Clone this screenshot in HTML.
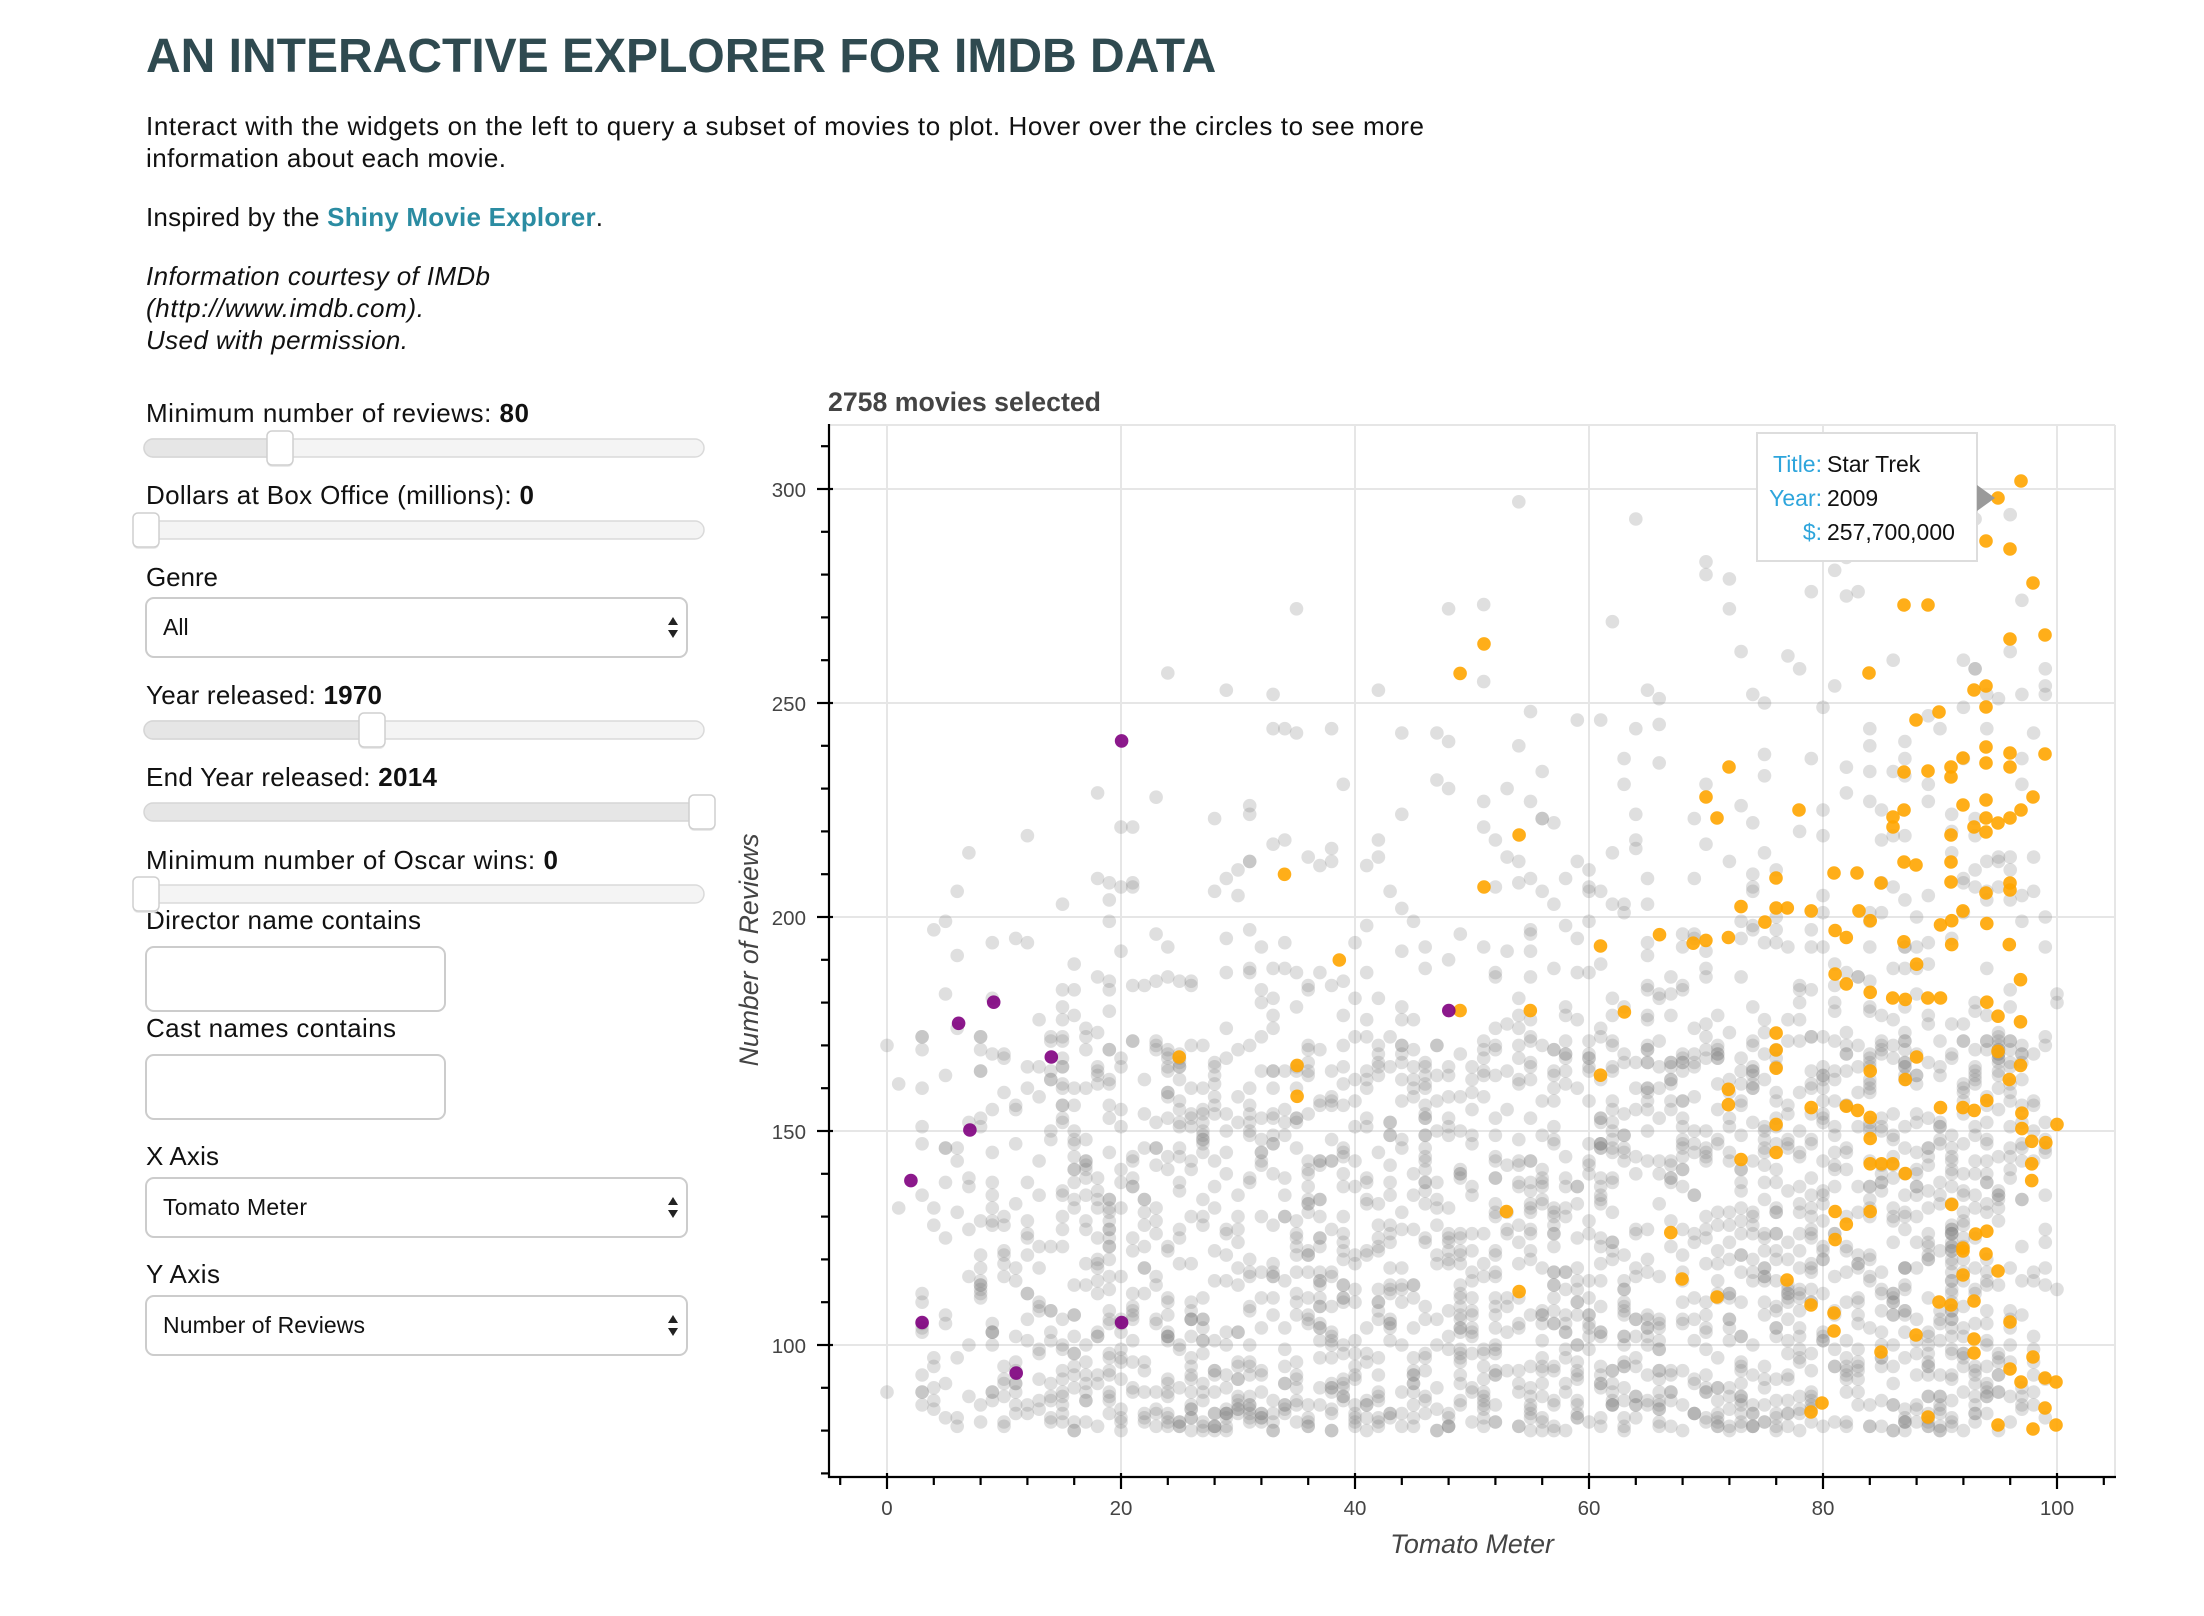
<!DOCTYPE html>
<html><head><meta charset="utf-8">
<style>
html,body{margin:0;padding:0;background:#fff;}
body{width:2204px;height:1616px;overflow:hidden;}
svg{display:block;font-family:"Liberation Sans",Helvetica,Arial,sans-serif;}
</style></head><body>
<svg id="s" width="2204" height="1616" viewBox="0 0 2204 1616" xmlns="http://www.w3.org/2000/svg">
<rect x="0" y="0" width="2204" height="1616" fill="#fff"/>
<!-- Header text -->
<text x="146" y="72" font-size="48" font-weight="bold" fill="#2f4a50">AN INTERACTIVE EXPLORER FOR IMDB DATA</text>
<g font-size="26" fill="#111">
<text x="146" y="135" textLength="1278">Interact with the widgets on the left to query a subset of movies to plot. Hover over the circles to see more</text>
<text x="146" y="167" textLength="360">information about each movie.</text>
<text x="146" y="226" textLength="457">Inspired by the <tspan font-weight="bold" fill="#2b8ca2">Shiny Movie Explorer</tspan>.</text>
<text x="146" y="285" font-style="italic" textLength="344">Information courtesy of IMDb</text>
<text x="146" y="317" font-style="italic" textLength="278">(http://www.imdb.com).</text>
<text x="146" y="349" font-style="italic" textLength="262">Used with permission.</text>

<text x="146" y="422" textLength="383">Minimum number of reviews: <tspan font-weight="bold">80</tspan></text>
<text x="146" y="504" textLength="388">Dollars at Box Office (millions): <tspan font-weight="bold">0</tspan></text>
<text x="146" y="586" textLength="72">Genre</text>
<text x="146" y="704" textLength="236">Year released: <tspan font-weight="bold">1970</tspan></text>
<text x="146" y="786" textLength="291">End Year released: <tspan font-weight="bold">2014</tspan></text>
<text x="146" y="869" textLength="412">Minimum number of Oscar wins: <tspan font-weight="bold">0</tspan></text>
<text x="146" y="929" textLength="275">Director name contains</text>
<text x="146" y="1037" textLength="250">Cast names contains</text>
<text x="146" y="1165" textLength="73">X Axis</text>
<text x="146" y="1283" textLength="74">Y Axis</text>
</g>

<!-- Sliders -->
<g stroke-width="1.5">
<rect x="144" y="439" width="560" height="18" rx="9" fill="#f4f4f4" stroke="#dadada"/>
<rect x="144" y="439" width="140" height="18" rx="9" fill="#e6e6e6" stroke="#d6d6d6"/>
<rect x="267" y="433" width="26" height="34" rx="5" fill="#e9e9e9" stroke="none"/>
<rect x="267" y="431" width="26" height="34" rx="5" fill="#fff" stroke="#cfcfcf"/>
<rect x="144" y="521" width="560" height="18" rx="9" fill="#f4f4f4" stroke="#dadada"/>
<rect x="133" y="515" width="26" height="34" rx="5" fill="#e9e9e9" stroke="none"/>
<rect x="133" y="513" width="26" height="34" rx="5" fill="#fff" stroke="#cfcfcf"/>
<rect x="144" y="721" width="560" height="18" rx="9" fill="#f4f4f4" stroke="#dadada"/>
<rect x="144" y="721" width="232" height="18" rx="9" fill="#e6e6e6" stroke="#d6d6d6"/>
<rect x="359" y="715" width="26" height="34" rx="5" fill="#e9e9e9" stroke="none"/>
<rect x="359" y="713" width="26" height="34" rx="5" fill="#fff" stroke="#cfcfcf"/>
<rect x="144" y="803" width="560" height="18" rx="9" fill="#e6e6e6" stroke="#d6d6d6"/>
<rect x="689" y="797" width="26" height="34" rx="5" fill="#e9e9e9" stroke="none"/>
<rect x="689" y="795" width="26" height="34" rx="5" fill="#fff" stroke="#cfcfcf"/>
<rect x="144" y="885" width="560" height="18" rx="9" fill="#f4f4f4" stroke="#dadada"/>
<rect x="133" y="879" width="26" height="34" rx="5" fill="#e9e9e9" stroke="none"/>
<rect x="133" y="877" width="26" height="34" rx="5" fill="#fff" stroke="#cfcfcf"/>
</g>

<!-- Selects and inputs -->
<g fill="#fff" stroke="#cccccc" stroke-width="2">
<rect x="146" y="598" width="541" height="59" rx="8"/>
<rect x="146" y="947" width="299" height="64" rx="8"/>
<rect x="146" y="1055" width="299" height="64" rx="8"/>
<rect x="146" y="1178" width="541" height="59" rx="8"/>
<rect x="146" y="1296" width="541" height="59" rx="8"/>
</g>
<g fill="#222">
<polygon points="668,625 678,625 673,617"/><polygon points="668,630 678,630 673,638"/>
<polygon points="668,1205 678,1205 673,1197"/><polygon points="668,1210 678,1210 673,1218"/>
<polygon points="668,1323 678,1323 673,1315"/><polygon points="668,1328 678,1328 673,1336"/>
</g>
<g font-size="23" fill="#111">
<text x="163" y="635">All</text>
<text x="163" y="1215" textLength="144">Tomato Meter</text>
<text x="163" y="1333" textLength="202">Number of Reviews</text>
</g>

<!-- Plot -->
<text x="828" y="411" font-size="26.7" font-weight="bold" fill="#444">2758 movies selected</text>
<g stroke="#e6e6e6" stroke-width="2">
<line x1="887" y1="425" x2="887" y2="1477"/>
<line x1="1121" y1="425" x2="1121" y2="1477"/>
<line x1="1355" y1="425" x2="1355" y2="1477"/>
<line x1="1589" y1="425" x2="1589" y2="1477"/>
<line x1="1823" y1="425" x2="1823" y2="1477"/>
<line x1="2057" y1="425" x2="2057" y2="1477"/>
<line x1="829" y1="489" x2="2115" y2="489"/>
<line x1="829" y1="703" x2="2115" y2="703"/>
<line x1="829" y1="917" x2="2115" y2="917"/>
<line x1="829" y1="1131" x2="2115" y2="1131"/>
<line x1="829" y1="1345" x2="2115" y2="1345"/>
<line x1="829" y1="425" x2="2115" y2="425"/>
<line x1="2115" y1="425" x2="2115" y2="1477"/>
</g>
<g id="dots"></g>
<g id="axes" stroke="#000" stroke-width="2.2">
<line x1="829" y1="424" x2="829" y2="1478"/>
<line x1="828" y1="1477" x2="2116" y2="1477"/>
</g>
<g id="ticklabels" font-size="20.5" fill="#444"></g>
<text x="1472" y="1553" font-size="26.7" font-style="italic" fill="#444" text-anchor="middle">Tomato Meter</text>
<text transform="translate(758,950) rotate(-90)" x="0" y="0" font-size="26.7" font-style="italic" fill="#444" text-anchor="middle">Number of Reviews</text>

<!-- Tooltip -->
<rect x="1757" y="433" width="220" height="128" fill="#fff" stroke="#dddddd" stroke-width="2"/>
<polygon points="1977,485 1977,511 1995,498" fill="#9a9a9a"/>
<g font-size="23">
<text x="1822" y="472" text-anchor="end" fill="#2ea5dc">Title:</text>
<text x="1827" y="472" fill="#111">Star Trek</text>
<text x="1822" y="506" text-anchor="end" fill="#2ea5dc">Year:</text>
<text x="1827" y="506" fill="#111">2009</text>
<text x="1822" y="540" text-anchor="end" fill="#2ea5dc">$:</text>
<text x="1827" y="540" fill="#111">257,700,000</text>
</g>
</svg>
<script>
(function(){
var NS="http://www.w3.org/2000/svg";
var g=document.getElementById('dots');
var axes=document.getElementById('axes');
var tl=document.getElementById('ticklabels');
function X(v){return 887+11.7*v;}
function Y(v){return 489+(300-v)*4.28;}
function el(parent,name,attrs,text){var e=document.createElementNS(NS,name);for(var k in attrs)e.setAttribute(k,attrs[k]);if(text!==undefined)e.textContent=text;parent.appendChild(e);return e;}
for(var v=70;v<=310;v+=10){var yy=Y(v);
 if(v%50===0){el(axes,'line',{x1:817,y1:yy,x2:833,y2:yy});el(tl,'text',{x:806,y:yy+8,'text-anchor':'end'},String(v));}
 else el(axes,'line',{x1:821,y1:yy,x2:829,y2:yy});}
for(var v=-4;v<=104;v+=4){var xx=X(v);
 if(v%20===0){el(axes,'line',{x1:xx,y1:1473,x2:xx,y2:1489});el(tl,'text',{x:xx,y:1515,'text-anchor':'middle'},String(v));}
 else el(axes,'line',{x1:xx,y1:1477,x2:xx,y2:1485});}
var s=987654321;
function r(){s|=0;s=s+0x6D2B79F5|0;var t=Math.imul(s^s>>>15,1|s);t=t+Math.imul(t^t>>>7,61|t)^t;return((t^t>>>14)>>>0)/4294967296;}
var w=[],tot=0;
for(var x=0;x<=100;x++){var ww=x<=2?0.12:x<8?0.3:x<15?0.6:0.8+0.005*x;if(x>=97)ww*=0.5;if(x==100)ww*=0.4;w.push(ww);tot+=ww;}
function circ(cx,cy,fill,op){el(g,'circle',{cx:cx.toFixed(1),cy:cy.toFixed(1),r:6.8,fill:fill,'fill-opacity':op});}
for(var i=0;i<2560;i++){
 var u=r()*tot,x=0;while(x<100&&u>w[x]){u-=w[x];x++;}
 var y;
 do{
  if(r()<0.1+0.16*x/100){
    var z=Math.sqrt(-2*Math.log(1-r()))*Math.cos(2*Math.PI*r());
    y=160+Math.abs(z)*(30+0.4*x);
  }else{y=80+92*Math.pow(r(),1.3);}
  y=Math.round(y);
 }while(y>300);
 circ(X(x),Y(y),'grey',0.25);
}
var od=[1055,458,1038,479,1229,546,1213,567,1221,582,1080,594,913,622,1055,631,1305,623,1322,622,1313,640,1322,648,1263,626,1263,646,1271,646,1255,656,1288,648,1238,645,1305,662,1313,667,1330,655,1380,658,1388,655,1396,648,1413,657,1429,672,1437,697,1354,670,1363,686,1388,672,1229,667,1213,669,1204,671,1180,665,1138,673,952,683,1305,693,1313,700,1330,706,1346,710,1355,711,1371,710,1380,710,1413,713,1421,723,1437,727,1421,748,1437,758,1429,768,1413,783,1404,790,1396,788,1380,788,1355,768,1363,752,1330,762,1330,795,1263,735,1263,747,1263,760,1229,775,1229,786,1238,825,1263,800,1263,820,1321,790,1330,810,1330,828,1338,828,1346,828,1355,835,1313,787,1288,788,1155,720,1088,719,1038,719,838,752,922,758,922,780,1138,765,1438,792,1438,803,1445,812,1463,800,1455,813,1445,828,1445,840,1388,857,1305,862,1313,871,1305,882,1330,862,1413,876,1405,878,1396,888,1396,906,1421,905,1421,925,1413,925,1437,923,1430,941,1388,925,1396,941,1363,925,1355,941,1305,930,1305,945,1313,928,1271,910,1288,927,1196,910,1221,922,1188,877,1071,862,1080,919,1305,962,1305,985,1297,1002,1288,1005,1338,962,1371,1008,1404,952,1404,962,1413,963,1421,970,1445,965,1437,975,1455,980,1463,983,1438,990,1445,1017,1463,1013,1421,1013,1396,1007,1363,948,1445,947,1346,598,1355,610,1363,612,1371,620,1388,613,1413,628,1429,628,1404,637];
for(var i=0;i<od.length;i+=2){var ax=887+(od[i]-630)*1.4046,ay=1345+(od[i+1]-957)*1.405;
 if(ax>=1700&&(ay<=900||ay>=1250))continue;
 circ(ax,ay,'orange',0.9);}
var oa=[2021,481,1998,498,1986,541,2010,549,2033,583,1904,605,1928,605,2010,639,2045,635,1869,673,1974,690,1986,686,1986,707,1916,720,1939,712,1986,747,1986,763,2010,753,2010,767,2045,754,1729,767,1706,797,1717,818,1799,810,1904,772,1928,771,1951,767,1951,777,1963,758,1904,810,1893,817,1893,827,1963,805,1986,800,1986,818,1998,823,1974,827,1986,832,2010,818,2021,810,2033,797,1951,835,1904,862,1916,865,1951,862,1776,878,1834,873,1857,873,1881,883,1951,882,2010,883,2010,890,1986,893,
1787,1280,1717,1297,1811,1305,1834,1313,1834,1331,1916,1335,1881,1352,1939,1302,1951,1305,1974,1301,1963,1275,1998,1271,1986,1254,1963,1251,2010,1322,1974,1339,1974,1353,2033,1357,2010,1369,2021,1382,2045,1378,2056,1382,2045,1408,1822,1403,1811,1412,1928,1417,1998,1425,2033,1429,2056,1425];
for(var i=0;i<oa.length;i+=2)circ(oa[i],oa[i+1],'orange',0.9);
var pd=[797,527,681,728,706,713,747,752,1030,719,689,804,647,840,655,941,797,941,722,977];
for(var i=0;i<pd.length;i+=2){circ(887+(pd[i]-630)*1.4046,1345+(pd[i+1]-957)*1.405,'purple',0.9);}
})();
</script>
</body></html>
